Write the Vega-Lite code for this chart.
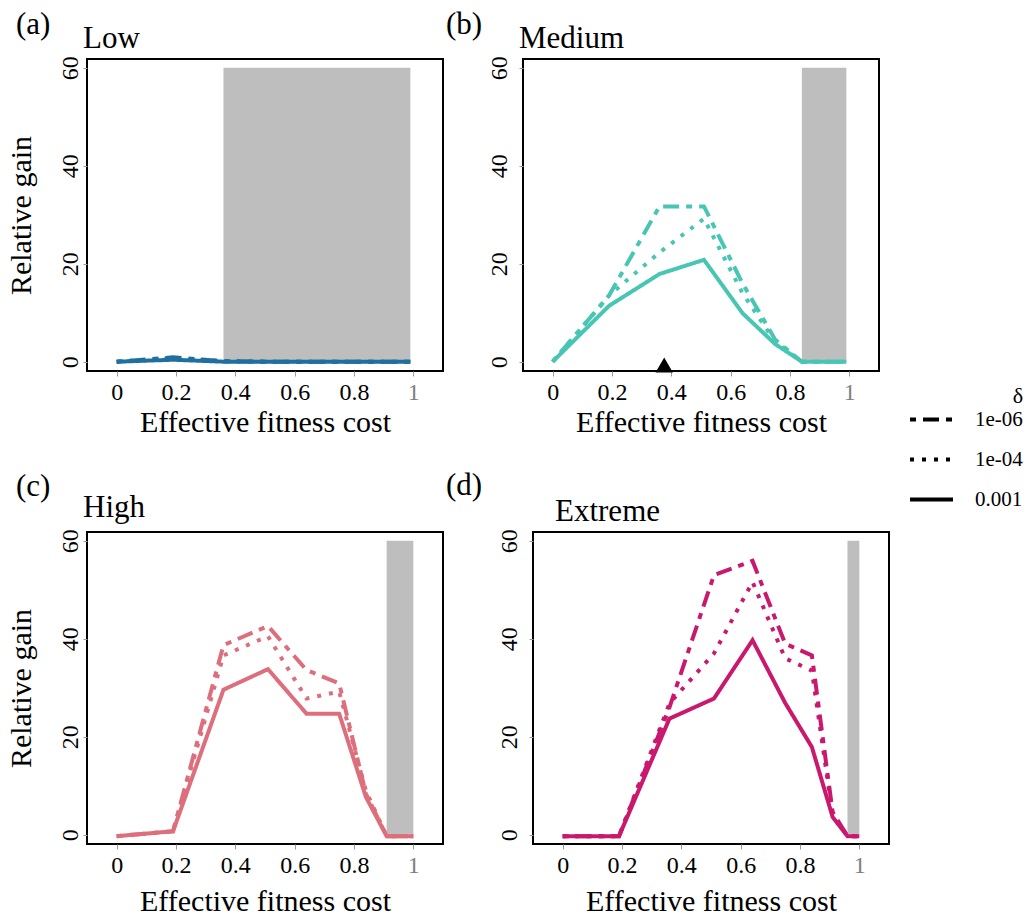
{
  "$schema": "https://vega.github.io/schema/vega-lite/v6.json",
  "background": "white",
  "padding": {"left": 5, "top": 8, "right": 0, "bottom": 0},
  "config": {
    "font": "Liberation Serif",
    "view": {"stroke": "black", "strokeWidth": 2},
    "axis": {"grid": false, "domain": false, "tickColor": "#9a9a9a", "tickWidth": 1, "labelFont": "Liberation Serif", "labelFontSize": 24, "labelColor": "black", "titleFont": "Liberation Serif", "titleFontSize": 30, "titleFontWeight": "normal", "titleColor": "black"},
    "axisX": {"tickSize": 5, "labelPadding": 4, "titlePadding": 3},
    "axisY": {"tickSize": 4, "labelAngle": -90, "labelPadding": 1, "titlePadding": 22},
    "title": {"font": "Liberation Serif", "fontSize": 31, "fontWeight": "normal", "anchor": "start", "color": "black"},
    "legend": {"labelFont": "Liberation Serif", "labelFontSize": 21, "titleFont": "Liberation Serif", "titleFontSize": 22, "titleFontWeight": "normal", "labelColor": "black", "titleColor": "black", "symbolStrokeColor": "black", "symbolStrokeWidth": 4, "symbolSize": 1849, "symbolType": "stroke", "rowPadding": 6, "labelOffset": 20, "padding": 0, "titleAnchor": "end", "titlePadding": -12}
  },
  "datasets": {
    "lines": [
      {"panel": "Low", "delta": "1e-06", "x": 0, "y": 0},
      {"panel": "Low", "delta": "1e-06", "x": 0.19, "y": 0.9},
      {"panel": "Low", "delta": "1e-06", "x": 0.36, "y": 0.1},
      {"panel": "Low", "delta": "1e-06", "x": 0.51, "y": 0},
      {"panel": "Low", "delta": "1e-06", "x": 0.64, "y": 0},
      {"panel": "Low", "delta": "1e-06", "x": 0.75, "y": 0},
      {"panel": "Low", "delta": "1e-06", "x": 0.84, "y": 0},
      {"panel": "Low", "delta": "1e-06", "x": 0.91, "y": 0},
      {"panel": "Low", "delta": "1e-06", "x": 0.96, "y": 0},
      {"panel": "Low", "delta": "1e-06", "x": 0.99, "y": 0},
      {"panel": "Low", "delta": "1e-04", "x": 0, "y": 0},
      {"panel": "Low", "delta": "1e-04", "x": 0.19, "y": 0.7},
      {"panel": "Low", "delta": "1e-04", "x": 0.36, "y": 0.1},
      {"panel": "Low", "delta": "1e-04", "x": 0.51, "y": 0},
      {"panel": "Low", "delta": "1e-04", "x": 0.64, "y": 0},
      {"panel": "Low", "delta": "1e-04", "x": 0.75, "y": 0},
      {"panel": "Low", "delta": "1e-04", "x": 0.84, "y": 0},
      {"panel": "Low", "delta": "1e-04", "x": 0.91, "y": 0},
      {"panel": "Low", "delta": "1e-04", "x": 0.96, "y": 0},
      {"panel": "Low", "delta": "1e-04", "x": 0.99, "y": 0},
      {"panel": "Low", "delta": "0.001", "x": 0, "y": 0},
      {"panel": "Low", "delta": "0.001", "x": 0.19, "y": 0.4},
      {"panel": "Low", "delta": "0.001", "x": 0.36, "y": 0},
      {"panel": "Low", "delta": "0.001", "x": 0.51, "y": 0},
      {"panel": "Low", "delta": "0.001", "x": 0.64, "y": 0},
      {"panel": "Low", "delta": "0.001", "x": 0.75, "y": 0},
      {"panel": "Low", "delta": "0.001", "x": 0.84, "y": 0},
      {"panel": "Low", "delta": "0.001", "x": 0.91, "y": 0},
      {"panel": "Low", "delta": "0.001", "x": 0.96, "y": 0},
      {"panel": "Low", "delta": "0.001", "x": 0.99, "y": 0},

      {"panel": "Medium", "delta": "1e-06", "x": 0, "y": 0},
      {"panel": "Medium", "delta": "1e-06", "x": 0.19, "y": 13.5},
      {"panel": "Medium", "delta": "1e-06", "x": 0.36, "y": 31.7},
      {"panel": "Medium", "delta": "1e-06", "x": 0.51, "y": 31.7},
      {"panel": "Medium", "delta": "1e-06", "x": 0.64, "y": 16},
      {"panel": "Medium", "delta": "1e-06", "x": 0.75, "y": 4.5},
      {"panel": "Medium", "delta": "1e-06", "x": 0.84, "y": 0},
      {"panel": "Medium", "delta": "1e-06", "x": 0.91, "y": 0},
      {"panel": "Medium", "delta": "1e-06", "x": 0.96, "y": 0},
      {"panel": "Medium", "delta": "1e-06", "x": 0.99, "y": 0},
      {"panel": "Medium", "delta": "1e-04", "x": 0, "y": 0},
      {"panel": "Medium", "delta": "1e-04", "x": 0.19, "y": 13.5},
      {"panel": "Medium", "delta": "1e-04", "x": 0.36, "y": 22.3},
      {"panel": "Medium", "delta": "1e-04", "x": 0.51, "y": 29.2},
      {"panel": "Medium", "delta": "1e-04", "x": 0.64, "y": 14},
      {"panel": "Medium", "delta": "1e-04", "x": 0.75, "y": 4},
      {"panel": "Medium", "delta": "1e-04", "x": 0.84, "y": 0},
      {"panel": "Medium", "delta": "1e-04", "x": 0.91, "y": 0},
      {"panel": "Medium", "delta": "1e-04", "x": 0.96, "y": 0},
      {"panel": "Medium", "delta": "1e-04", "x": 0.99, "y": 0},
      {"panel": "Medium", "delta": "0.001", "x": 0, "y": 0},
      {"panel": "Medium", "delta": "0.001", "x": 0.19, "y": 11.4},
      {"panel": "Medium", "delta": "0.001", "x": 0.36, "y": 17.9},
      {"panel": "Medium", "delta": "0.001", "x": 0.51, "y": 20.8},
      {"panel": "Medium", "delta": "0.001", "x": 0.64, "y": 9.9},
      {"panel": "Medium", "delta": "0.001", "x": 0.75, "y": 3.6},
      {"panel": "Medium", "delta": "0.001", "x": 0.84, "y": 0},
      {"panel": "Medium", "delta": "0.001", "x": 0.91, "y": 0},
      {"panel": "Medium", "delta": "0.001", "x": 0.96, "y": 0},
      {"panel": "Medium", "delta": "0.001", "x": 0.99, "y": 0},

      {"panel": "High", "delta": "1e-06", "x": 0, "y": -0.3},
      {"panel": "High", "delta": "1e-06", "x": 0.19, "y": 0.7},
      {"panel": "High", "delta": "1e-06", "x": 0.36, "y": 38.7},
      {"panel": "High", "delta": "1e-06", "x": 0.51, "y": 42.6},
      {"panel": "High", "delta": "1e-06", "x": 0.64, "y": 33.6},
      {"panel": "High", "delta": "1e-06", "x": 0.75, "y": 30.9},
      {"panel": "High", "delta": "1e-06", "x": 0.84, "y": 8.4},
      {"panel": "High", "delta": "1e-06", "x": 0.91, "y": -0.3},
      {"panel": "High", "delta": "1e-06", "x": 0.96, "y": -0.3},
      {"panel": "High", "delta": "1e-06", "x": 0.99, "y": -0.3},
      {"panel": "High", "delta": "1e-06", "x": 1, "y": -0.3},
      {"panel": "High", "delta": "1e-04", "x": 0, "y": -0.3},
      {"panel": "High", "delta": "1e-04", "x": 0.19, "y": 0.7},
      {"panel": "High", "delta": "1e-04", "x": 0.36, "y": 36.6},
      {"panel": "High", "delta": "1e-04", "x": 0.51, "y": 40.5},
      {"panel": "High", "delta": "1e-04", "x": 0.64, "y": 27.8},
      {"panel": "High", "delta": "1e-04", "x": 0.75, "y": 29.2},
      {"panel": "High", "delta": "1e-04", "x": 0.84, "y": 9},
      {"panel": "High", "delta": "1e-04", "x": 0.91, "y": -0.3},
      {"panel": "High", "delta": "1e-04", "x": 0.96, "y": -0.3},
      {"panel": "High", "delta": "1e-04", "x": 0.99, "y": -0.3},
      {"panel": "High", "delta": "1e-04", "x": 1, "y": -0.3},
      {"panel": "High", "delta": "0.001", "x": 0, "y": -0.3},
      {"panel": "High", "delta": "0.001", "x": 0.19, "y": 0.7},
      {"panel": "High", "delta": "0.001", "x": 0.36, "y": 29.6},
      {"panel": "High", "delta": "0.001", "x": 0.51, "y": 33.8},
      {"panel": "High", "delta": "0.001", "x": 0.64, "y": 24.7},
      {"panel": "High", "delta": "0.001", "x": 0.75, "y": 24.7},
      {"panel": "High", "delta": "0.001", "x": 0.84, "y": 7.7},
      {"panel": "High", "delta": "0.001", "x": 0.91, "y": -0.3},
      {"panel": "High", "delta": "0.001", "x": 0.96, "y": -0.3},
      {"panel": "High", "delta": "0.001", "x": 0.99, "y": -0.3},
      {"panel": "High", "delta": "0.001", "x": 1, "y": -0.3},

      {"panel": "Extreme", "delta": "1e-06", "x": 0, "y": -0.3},
      {"panel": "Extreme", "delta": "1e-06", "x": 0.19, "y": -0.3},
      {"panel": "Extreme", "delta": "1e-06", "x": 0.36, "y": 26},
      {"panel": "Extreme", "delta": "1e-06", "x": 0.51, "y": 53},
      {"panel": "Extreme", "delta": "1e-06", "x": 0.64, "y": 55.9},
      {"panel": "Extreme", "delta": "1e-06", "x": 0.75, "y": 39},
      {"panel": "Extreme", "delta": "1e-06", "x": 0.84, "y": 36.6},
      {"panel": "Extreme", "delta": "1e-06", "x": 0.91, "y": 4.6},
      {"panel": "Extreme", "delta": "1e-06", "x": 0.96, "y": -0.3},
      {"panel": "Extreme", "delta": "1e-06", "x": 0.99, "y": -0.3},
      {"panel": "Extreme", "delta": "1e-06", "x": 1, "y": -0.3},
      {"panel": "Extreme", "delta": "1e-04", "x": 0, "y": -0.3},
      {"panel": "Extreme", "delta": "1e-04", "x": 0.19, "y": -0.3},
      {"panel": "Extreme", "delta": "1e-04", "x": 0.36, "y": 26.8},
      {"panel": "Extreme", "delta": "1e-04", "x": 0.51, "y": 37},
      {"panel": "Extreme", "delta": "1e-04", "x": 0.64, "y": 51.6},
      {"panel": "Extreme", "delta": "1e-04", "x": 0.75, "y": 36},
      {"panel": "Extreme", "delta": "1e-04", "x": 0.84, "y": 33.5},
      {"panel": "Extreme", "delta": "1e-04", "x": 0.91, "y": 4},
      {"panel": "Extreme", "delta": "1e-04", "x": 0.96, "y": -0.3},
      {"panel": "Extreme", "delta": "1e-04", "x": 0.99, "y": -0.3},
      {"panel": "Extreme", "delta": "1e-04", "x": 1, "y": -0.3},
      {"panel": "Extreme", "delta": "0.001", "x": 0, "y": -0.3},
      {"panel": "Extreme", "delta": "0.001", "x": 0.19, "y": -0.3},
      {"panel": "Extreme", "delta": "0.001", "x": 0.36, "y": 23.7},
      {"panel": "Extreme", "delta": "0.001", "x": 0.51, "y": 27.8},
      {"panel": "Extreme", "delta": "0.001", "x": 0.64, "y": 39.7},
      {"panel": "Extreme", "delta": "0.001", "x": 0.75, "y": 26.9},
      {"panel": "Extreme", "delta": "0.001", "x": 0.84, "y": 17.9},
      {"panel": "Extreme", "delta": "0.001", "x": 0.91, "y": 3.6},
      {"panel": "Extreme", "delta": "0.001", "x": 0.96, "y": -0.3},
      {"panel": "Extreme", "delta": "0.001", "x": 0.99, "y": -0.3},
      {"panel": "Extreme", "delta": "0.001", "x": 1, "y": -0.3}
    ],
    "rects": [
      {"panel": "Low", "x": 0.36, "x2": 0.99, "y": 0, "y2": 60},
      {"panel": "Medium", "x": 0.84, "x2": 0.99, "y": 0, "y2": 60},
      {"panel": "High", "x": 0.91, "x2": 1, "y": 0, "y2": 60},
      {"panel": "Extreme", "x": 0.96, "x2": 1, "y": 0, "y2": 60}
    ],
    "marker": [
      {"panel": "Medium", "x": 0.376, "y": -0.7}
    ]
  },
  "vconcat": [
    {
      "hconcat": [
        {
          "title": {"text": "(a)", "frame": "bounds", "anchor": "start", "dx": 11, "dy": 19, "offset": 0},
          "vconcat": [
            {
              "title": {"text": "Low", "frame": "group", "anchor": "start", "dx": -4, "offset": 1},
              "width": 356, "height": 312,
              "layer": [
                {
                  "data": {"name": "rects"},
                  "transform": [{"filter": "datum.panel == 'Low'"}],
                  "mark": {"type": "rect", "color": "#bebebe"},
                  "encoding": {
                    "x": {"field": "x", "type": "quantitative", "scale": {"domain": [-0.1, 1.1], "nice": false, "zero": false}, "title": "Effective fitness cost", "axis": {"values": [0, 0.1, 0.2, 0.3, 0.4, 0.5, 0.6, 0.7, 0.8, 0.9, 1], "format": "~g", "labelExpr": "round(datum.value * 10) % 2 == 0 ? datum.label : ''", "labelColor": {"condition": {"test": "datum.value == 1", "value": "#808080"}, "value": "black"}}},
                    "x2": {"field": "x2"},
                    "y": {"field": "y", "type": "quantitative", "scale": {"domain": [-1.9, 61.8], "nice": false, "zero": false}, "title": "Relative gain", "axis": {"values": [0, 20, 40, 60]}},
                    "y2": {"field": "y2"}
                  }
                },
                {
                  "data": {"name": "lines"},
                  "transform": [{"filter": "datum.panel == 'Low'"}],
                  "mark": {"type": "line", "color": "#1f6f9f", "strokeWidth": 4},
                  "encoding": {
                    "x": {"field": "x", "type": "quantitative", "title": "Effective fitness cost"},
                    "y": {"field": "y", "type": "quantitative", "title": "Relative gain"},
                    "strokeDash": {"field": "delta", "type": "nominal", "scale": {"domain": ["1e-06", "1e-04", "0.001"], "range": [[6, 7, 16, 7], [4, 8], [1, 0]]}, "legend": {"title": "δ", "orient": "none", "legendX": 821, "legendY": 327, "encode": {"symbols": {"update": {"stroke": {"value": "black"}}}}}}
                  }
                }
              ]
            }
          ]
        },
        {
          "title": {"text": "(b)", "frame": "bounds", "anchor": "start", "dx": -40, "dy": 19, "offset": 0},
          "vconcat": [
            {
              "title": {"text": "Medium", "frame": "group", "anchor": "start", "dx": -4, "offset": 1},
              "width": 356, "height": 312,
              "layer": [
                {
                  "data": {"name": "rects"},
                  "transform": [{"filter": "datum.panel == 'Medium'"}],
                  "mark": {"type": "rect", "color": "#bebebe"},
                  "encoding": {
                    "x": {"field": "x", "type": "quantitative", "scale": {"domain": [-0.1, 1.1], "nice": false, "zero": false}, "title": "Effective fitness cost", "axis": {"values": [0, 0.1, 0.2, 0.3, 0.4, 0.5, 0.6, 0.7, 0.8, 0.9, 1], "format": "~g", "labelExpr": "round(datum.value * 10) % 2 == 0 ? datum.label : ''", "labelColor": {"condition": {"test": "datum.value == 1", "value": "#808080"}, "value": "black"}}},
                    "x2": {"field": "x2"},
                    "y": {"field": "y", "type": "quantitative", "scale": {"domain": [-1.9, 61.8], "nice": false, "zero": false}, "title": null, "axis": {"values": [0, 20, 40, 60], "labelPadding": 8}},
                    "y2": {"field": "y2"}
                  }
                },
                {
                  "data": {"name": "lines"},
                  "transform": [{"filter": "datum.panel == 'Medium'"}],
                  "mark": {"type": "line", "color": "#48c6b3", "strokeWidth": 4},
                  "encoding": {
                    "x": {"field": "x", "type": "quantitative", "title": "Effective fitness cost"},
                    "y": {"field": "y", "type": "quantitative", "title": null},
                    "strokeDash": {"field": "delta", "type": "nominal", "scale": {"domain": ["1e-06", "1e-04", "0.001"], "range": [[6, 7, 16, 7], [4, 8], [1, 0]]}, "legend": {"title": "δ", "orient": "none", "legendX": 821, "legendY": 327, "encode": {"symbols": {"update": {"stroke": {"value": "black"}}}}}}
                  }
                },
                {
                  "data": {"name": "marker"},
                  "mark": {"type": "point", "shape": "triangle-up", "filled": true, "color": "black", "size": 300, "opacity": 1},
                  "encoding": {
                    "x": {"field": "x", "type": "quantitative", "title": "Effective fitness cost"},
                    "y": {"field": "y", "type": "quantitative", "title": null}
                  }
                }
              ]
            }
          ]
        }
      ],
      "spacing": 2
    },
    {
      "hconcat": [
        {
          "title": {"text": "(c)", "frame": "bounds", "anchor": "start", "dx": 11, "dy": 12, "offset": 0},
          "vconcat": [
            {
              "title": {"text": "High", "frame": "group", "anchor": "start", "dx": -4, "offset": 5},
              "width": 356, "height": 312,
              "layer": [
                {
                  "data": {"name": "rects"},
                  "transform": [{"filter": "datum.panel == 'High'"}],
                  "mark": {"type": "rect", "color": "#bebebe"},
                  "encoding": {
                    "x": {"field": "x", "type": "quantitative", "scale": {"domain": [-0.1, 1.1], "nice": false, "zero": false}, "title": "Effective fitness cost", "axis": {"titlePadding": 9, "values": [0, 0.1, 0.2, 0.3, 0.4, 0.5, 0.6, 0.7, 0.8, 0.9, 1], "format": "~g", "labelExpr": "round(datum.value * 10) % 2 == 0 ? datum.label : ''", "labelColor": {"condition": {"test": "datum.value == 1", "value": "#808080"}, "value": "black"}}},
                    "x2": {"field": "x2"},
                    "y": {"field": "y", "type": "quantitative", "scale": {"domain": [-1.9, 61.8], "nice": false, "zero": false}, "title": "Relative gain", "axis": {"values": [0, 20, 40, 60]}},
                    "y2": {"field": "y2"}
                  }
                },
                {
                  "data": {"name": "lines"},
                  "transform": [{"filter": "datum.panel == 'High'"}],
                  "mark": {"type": "line", "color": "#dd6e7b", "strokeWidth": 4},
                  "encoding": {
                    "x": {"field": "x", "type": "quantitative", "title": "Effective fitness cost"},
                    "y": {"field": "y", "type": "quantitative", "title": "Relative gain"},
                    "strokeDash": {"field": "delta", "type": "nominal", "scale": {"domain": ["1e-06", "1e-04", "0.001"], "range": [[6, 7, 16, 7], [4, 8], [1, 0]]}, "legend": {"title": "δ", "orient": "none", "legendX": 821, "legendY": 327, "encode": {"symbols": {"update": {"stroke": {"value": "black"}}}}}}
                  }
                }
              ]
            }
          ]
        },
        {
          "title": {"text": "(d)", "frame": "bounds", "anchor": "start", "dx": -50, "dy": 7, "offset": 0},
          "vconcat": [
            {
              "title": {"text": "Extreme", "frame": "group", "anchor": "start", "dx": 22, "offset": 0.5},
              "width": 356, "height": 312,
              "layer": [
                {
                  "data": {"name": "rects"},
                  "transform": [{"filter": "datum.panel == 'Extreme'"}],
                  "mark": {"type": "rect", "color": "#bebebe"},
                  "encoding": {
                    "x": {"field": "x", "type": "quantitative", "scale": {"domain": [-0.1, 1.1], "nice": false, "zero": false}, "title": "Effective fitness cost", "axis": {"titlePadding": 9, "values": [0, 0.1, 0.2, 0.3, 0.4, 0.5, 0.6, 0.7, 0.8, 0.9, 1], "format": "~g", "labelExpr": "round(datum.value * 10) % 2 == 0 ? datum.label : ''", "labelColor": {"condition": {"test": "datum.value == 1", "value": "#808080"}, "value": "black"}}},
                    "x2": {"field": "x2"},
                    "y": {"field": "y", "type": "quantitative", "scale": {"domain": [-1.9, 61.8], "nice": false, "zero": false}, "title": null, "axis": {"values": [0, 20, 40, 60], "labelPadding": 8}},
                    "y2": {"field": "y2"}
                  }
                },
                {
                  "data": {"name": "lines"},
                  "transform": [{"filter": "datum.panel == 'Extreme'"}],
                  "mark": {"type": "line", "color": "#c9196e", "strokeWidth": 4},
                  "encoding": {
                    "x": {"field": "x", "type": "quantitative", "title": "Effective fitness cost"},
                    "y": {"field": "y", "type": "quantitative", "title": null},
                    "strokeDash": {"field": "delta", "type": "nominal", "scale": {"domain": ["1e-06", "1e-04", "0.001"], "range": [[6, 7, 16, 7], [4, 8], [1, 0]]}, "legend": {"title": "δ", "orient": "none", "legendX": 821, "legendY": 327, "encode": {"symbols": {"update": {"stroke": {"value": "black"}}}}}}
                  }
                }
              ]
            }
          ]
        }
      ],
      "spacing": 2
    }
  ],
  "spacing": 32
}
